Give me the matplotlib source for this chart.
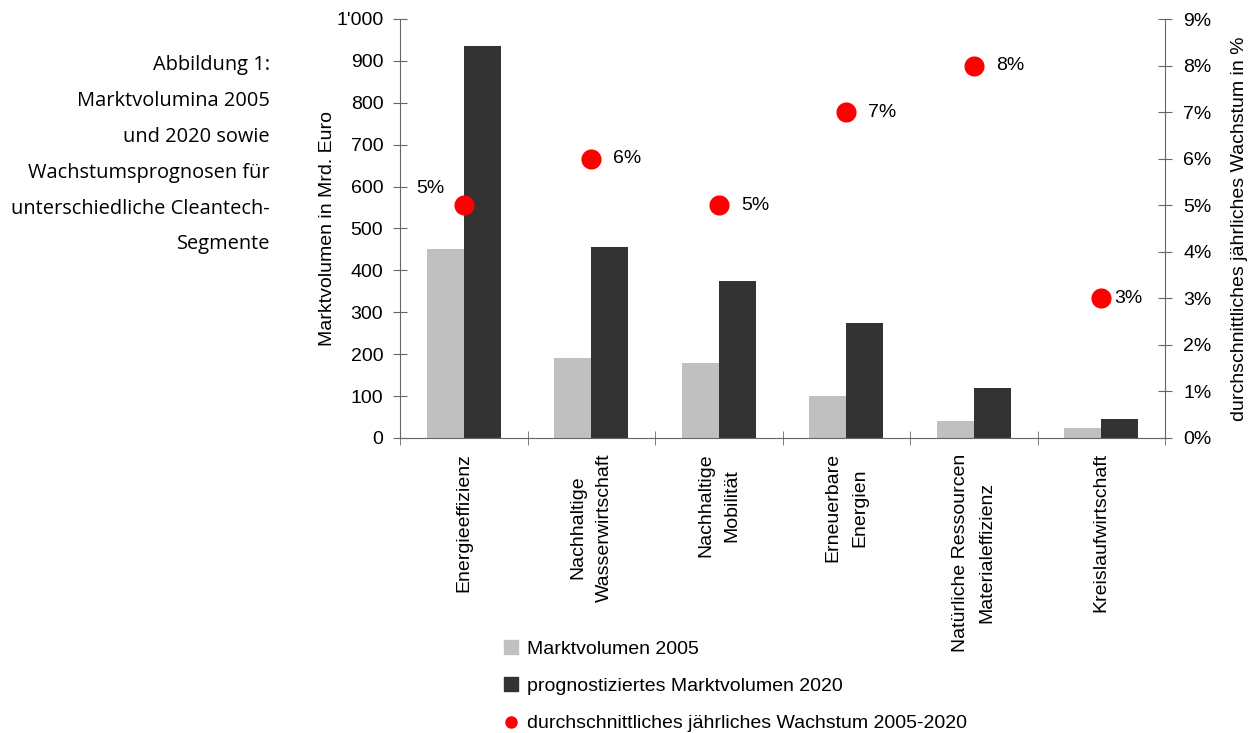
import matplotlib.pyplot as plt
from matplotlib.lines import Line2D
from matplotlib.ticker import FuncFormatter, MultipleLocator
import numpy as np

plt.rcParams['font.family'] = ['Liberation Sans', 'DejaVu Sans']

# data
segments = ['Energieeffizienz', 'Nachhaltige\nWasserwirtschaft', 'Nachhaltige\nMobilität',
            'Erneuerbare\nEnergien', 'Natürliche Ressourcen\nMaterialeffizienz', 'Kreislaufwirtschaft']
volume_2005 = [450, 190, 180, 100, 40, 25]
volume_2020 = [935, 455, 375, 275, 120, 45]
growth = [5, 6, 5, 7, 8, 3]
growth_labels = ['5%', '6%', '5%', '7%', '8%', '3%']

# label offsets in points (dx, dy)
label_offsets = [(-24, 12), (16, 0), (16, 0), (16, 0), (16, 0), (9, 0)]

light = '#c0c0c0'
dark = '#333333'
red = '#ff0000'
axis_col = '#666666'
fs = 14

fig = plt.figure(figsize=(12.56, 7.33), dpi=100)
ax = fig.add_axes([400/1256, 1-438/733, 765/1256, 419/733])

x = np.arange(len(segments))
w = 0.29
ax.bar(x - w/2, volume_2005, w, color=light, zorder=2)
ax.bar(x + w/2, volume_2020, w, color=dark, zorder=2)

ax.set_xlim(-0.5, len(segments) - 0.5)
ax.set_ylim(0, 1000)
ax.yaxis.set_major_locator(MultipleLocator(100))
ax.yaxis.set_major_formatter(FuncFormatter(lambda v, p: "1'000" if v >= 1000 else '%d' % v))
ax.set_ylabel('Marktvolumen in Mrd. Euro', fontsize=fs, labelpad=0)

ax.set_xticks(x)
ax.set_xticklabels(segments, rotation=90, fontsize=fs, multialignment='center', linespacing=1.75)
ax.set_xticks(np.arange(-0.5, len(segments)), minor=True)
ax.tick_params(axis='x', which='major', length=0, pad=11)
ax.tick_params(axis='x', which='minor', length=10, direction='inout', color=axis_col)
ax.tick_params(axis='y', length=10, direction='inout', color=axis_col, labelsize=fs, pad=7)

for s in ['top', 'right']:
    ax.spines[s].set_visible(False)
for s in ['left', 'bottom']:
    ax.spines[s].set_color(axis_col)

ax2 = ax.twinx()
ax2.set_ylim(0, 9)
ax2.yaxis.set_major_locator(MultipleLocator(1))
ax2.yaxis.set_major_formatter(FuncFormatter(lambda v, p: '%d%%' % v))
ax2.tick_params(axis='y', length=10, direction='inout', color=axis_col, labelsize=fs, pad=8)
for s in ['top', 'left', 'bottom']:
    ax2.spines[s].set_visible(False)
ax2.spines['right'].set_color(axis_col)
ax2.set_ylabel('durchschnittliches jährliches Wachstum in %', fontsize=fs, labelpad=14)

ax2.scatter(x, growth, s=210, color=red, zorder=3, linewidths=0)
for xi, g, lab, off in zip(x, growth, growth_labels, label_offsets):
    ax2.annotate(lab, (xi, g), xytext=off, textcoords='offset points',
                 ha='center' if off[1] else 'left', va='center', fontsize=fs)

# caption on the left
fig.text(270/1256, 1-55/733,
         'Abbildung 1:\nMarktvolumina 2005\nund 2020 sowie\nWachstumsprognosen für\nunterschiedliche Cleantech-\nSegmente',
         ha='right', va='top', fontsize=14.4, family='Open Sans', linespacing=2.06,
         multialignment='right')

handles = [
    Line2D([], [], marker='s', linestyle='none', color=light, markersize=10),
    Line2D([], [], marker='s', linestyle='none', color=dark, markersize=10),
    Line2D([], [], marker='o', linestyle='none', color=red, markersize=8),
]
fig.legend(handles, ['Marktvolumen 2005', 'prognostiziertes Marktvolumen 2020',
                     'durchschnittliches jährliches Wachstum 2005-2020'],
           loc='upper left', bbox_to_anchor=(503/1256, 1-640/733), frameon=False,
           fontsize=fs, handlelength=0.8, handletextpad=0.45, labelspacing=1.02,
           borderaxespad=0, borderpad=0)

fig.savefig('out.png', dpi=100)
